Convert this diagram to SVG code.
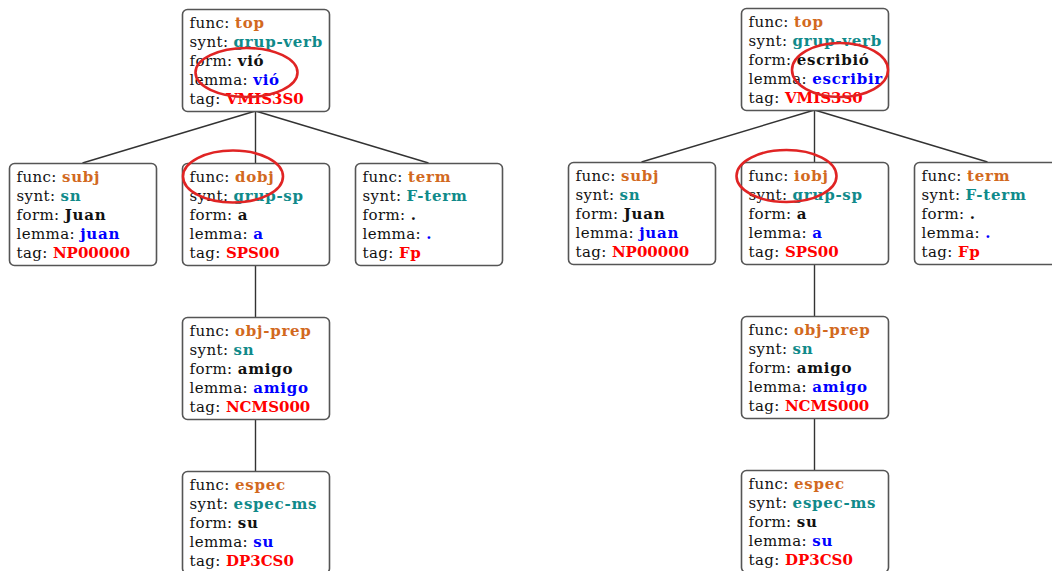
<svg xmlns="http://www.w3.org/2000/svg" width="1052" height="571" viewBox="0 0 1052 571">
<style>
.box{fill:#fff;stroke:#555;stroke-width:1.6}
text{font-family:"DejaVu Serif",serif;font-size:15px;fill:#111;letter-spacing:0.4px}
.v{font-weight:bold;letter-spacing:0.75px}
.fn{fill:#d2691e}
.sy{fill:#108a8a}
.fo{fill:#111}
.le{fill:#0000ff}
.tg{fill:#ff0000;letter-spacing:0}
.edge{stroke:#333;stroke-width:1.4;fill:none}
.mark{fill:none;stroke:#e02424;stroke-width:2.6}
</style>
<defs>
<rect id="nb" class="box" x="0" y="0" width="147" height="102" rx="5"/>
</defs>
<g id="connectors">
<line class="edge" x1="255.5" y1="111" x2="82.5" y2="163"/>
<line class="edge" x1="255.5" y1="111" x2="255.5" y2="163"/>
<line class="edge" x1="255.5" y1="111" x2="428.5" y2="163"/>
<line class="edge" x1="255.5" y1="265" x2="255.5" y2="317"/>
<line class="edge" x1="255.5" y1="419" x2="255.5" y2="471"/>
<line class="edge" x1="814.5" y1="110" x2="641.5" y2="162"/>
<line class="edge" x1="814.5" y1="110" x2="814.5" y2="162"/>
<line class="edge" x1="814.5" y1="110" x2="987.5" y2="162"/>
<line class="edge" x1="814.5" y1="264" x2="814.5" y2="316"/>
<line class="edge" x1="814.5" y1="418" x2="814.5" y2="470"/>
</g>
<g id="L-top" transform="translate(182.5,9.5)">
<use href="#nb"/>
<text x="7" y="18">func: <tspan class="v fn">top</tspan></text>
<text x="7" y="37.2">synt: <tspan class="v sy">grup-verb</tspan></text>
<text x="7" y="56.4">form: <tspan class="v fo">vió</tspan></text>
<text x="7" y="75.6">lemma: <tspan class="v le">vió</tspan></text>
<text x="7" y="94.8">tag: <tspan class="v tg">VMIS3S0</tspan></text>
</g>
<g id="L-subj" transform="translate(9.5,163.5)">
<use href="#nb"/>
<text x="7" y="18">func: <tspan class="v fn">subj</tspan></text>
<text x="7" y="37.2">synt: <tspan class="v sy">sn</tspan></text>
<text x="7" y="56.4">form: <tspan class="v fo">Juan</tspan></text>
<text x="7" y="75.6">lemma: <tspan class="v le">juan</tspan></text>
<text x="7" y="94.8">tag: <tspan class="v tg">NP00000</tspan></text>
</g>
<g id="L-dobj" transform="translate(182.5,163.5)">
<use href="#nb"/>
<text x="7" y="18">func: <tspan class="v fn">dobj</tspan></text>
<text x="7" y="37.2">synt: <tspan class="v sy">grup-sp</tspan></text>
<text x="7" y="56.4">form: <tspan class="v fo">a</tspan></text>
<text x="7" y="75.6">lemma: <tspan class="v le">a</tspan></text>
<text x="7" y="94.8">tag: <tspan class="v tg">SPS00</tspan></text>
</g>
<g id="L-term" transform="translate(355.5,163.5)">
<use href="#nb"/>
<text x="7" y="18">func: <tspan class="v fn">term</tspan></text>
<text x="7" y="37.2">synt: <tspan class="v sy">F-term</tspan></text>
<text x="7" y="56.4">form: <tspan class="v fo">.</tspan></text>
<text x="7" y="75.6">lemma: <tspan class="v le">.</tspan></text>
<text x="7" y="94.8">tag: <tspan class="v tg" style="letter-spacing:0.75px">Fp</tspan></text>
</g>
<g id="L-objprep" transform="translate(182.5,317.5)">
<use href="#nb"/>
<text x="7" y="18">func: <tspan class="v fn">obj-prep</tspan></text>
<text x="7" y="37.2">synt: <tspan class="v sy">sn</tspan></text>
<text x="7" y="56.4">form: <tspan class="v fo">amigo</tspan></text>
<text x="7" y="75.6">lemma: <tspan class="v le">amigo</tspan></text>
<text x="7" y="94.8">tag: <tspan class="v tg">NCMS000</tspan></text>
</g>
<g id="L-espec" transform="translate(182.5,471.5)">
<use href="#nb"/>
<text x="7" y="18">func: <tspan class="v fn">espec</tspan></text>
<text x="7" y="37.2">synt: <tspan class="v sy">espec-ms</tspan></text>
<text x="7" y="56.4">form: <tspan class="v fo">su</tspan></text>
<text x="7" y="75.6">lemma: <tspan class="v le">su</tspan></text>
<text x="7" y="94.8">tag: <tspan class="v tg">DP3CS0</tspan></text>
</g>
<g id="R-top" transform="translate(741.5,8.5)">
<use href="#nb"/>
<text x="7" y="18">func: <tspan class="v fn">top</tspan></text>
<text x="7" y="37.2">synt: <tspan class="v sy">grup-verb</tspan></text>
<text x="7" y="56.4">form: <tspan class="v fo">escribió</tspan></text>
<text x="7" y="75.6">lemma: <tspan class="v le">escribir</tspan></text>
<text x="7" y="94.8">tag: <tspan class="v tg">VMIS3S0</tspan></text>
</g>
<g id="R-subj" transform="translate(568.5,162.5)">
<use href="#nb"/>
<text x="7" y="18">func: <tspan class="v fn">subj</tspan></text>
<text x="7" y="37.2">synt: <tspan class="v sy">sn</tspan></text>
<text x="7" y="56.4">form: <tspan class="v fo">Juan</tspan></text>
<text x="7" y="75.6">lemma: <tspan class="v le">juan</tspan></text>
<text x="7" y="94.8">tag: <tspan class="v tg">NP00000</tspan></text>
</g>
<g id="R-iobj" transform="translate(741.5,162.5)">
<use href="#nb"/>
<text x="7" y="18">func: <tspan class="v fn">iobj</tspan></text>
<text x="7" y="37.2">synt: <tspan class="v sy">grup-sp</tspan></text>
<text x="7" y="56.4">form: <tspan class="v fo">a</tspan></text>
<text x="7" y="75.6">lemma: <tspan class="v le">a</tspan></text>
<text x="7" y="94.8">tag: <tspan class="v tg">SPS00</tspan></text>
</g>
<g id="R-term" transform="translate(914.5,162.5)">
<use href="#nb"/>
<text x="7" y="18">func: <tspan class="v fn">term</tspan></text>
<text x="7" y="37.2">synt: <tspan class="v sy">F-term</tspan></text>
<text x="7" y="56.4">form: <tspan class="v fo">.</tspan></text>
<text x="7" y="75.6">lemma: <tspan class="v le">.</tspan></text>
<text x="7" y="94.8">tag: <tspan class="v tg" style="letter-spacing:0.75px">Fp</tspan></text>
</g>
<g id="R-objprep" transform="translate(741.5,316.5)">
<use href="#nb"/>
<text x="7" y="18">func: <tspan class="v fn">obj-prep</tspan></text>
<text x="7" y="37.2">synt: <tspan class="v sy">sn</tspan></text>
<text x="7" y="56.4">form: <tspan class="v fo">amigo</tspan></text>
<text x="7" y="75.6">lemma: <tspan class="v le">amigo</tspan></text>
<text x="7" y="94.8">tag: <tspan class="v tg">NCMS000</tspan></text>
</g>
<g id="R-espec" transform="translate(741.5,470.5)">
<use href="#nb"/>
<text x="7" y="18">func: <tspan class="v fn">espec</tspan></text>
<text x="7" y="37.2">synt: <tspan class="v sy">espec-ms</tspan></text>
<text x="7" y="56.4">form: <tspan class="v fo">su</tspan></text>
<text x="7" y="75.6">lemma: <tspan class="v le">su</tspan></text>
<text x="7" y="94.8">tag: <tspan class="v tg">DP3CS0</tspan></text>
</g>
<g id="highlights">
<ellipse class="mark" cx="246.5" cy="72.5" rx="51" ry="24.5"/>
<ellipse class="mark" cx="233" cy="176.5" rx="50" ry="26"/>
<ellipse class="mark" cx="840" cy="70" rx="48" ry="27"/>
<ellipse class="mark" cx="786.5" cy="176" rx="50" ry="26"/>
</g>
</svg>
